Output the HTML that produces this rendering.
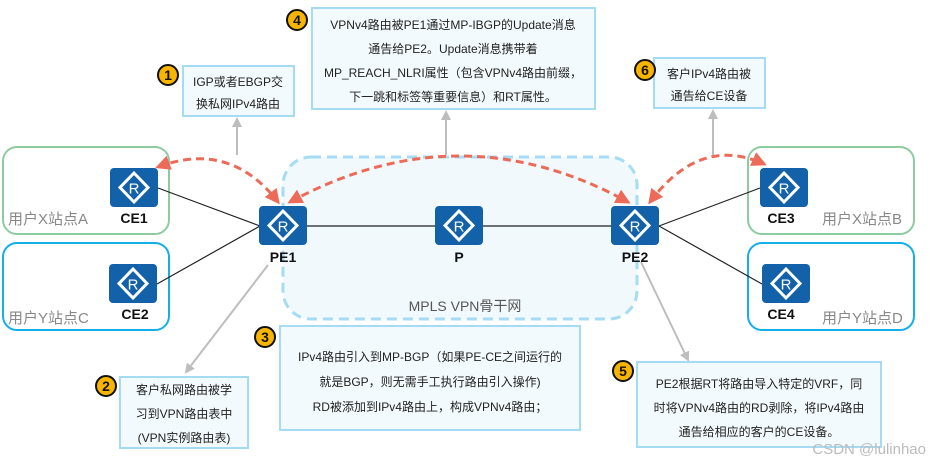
<!DOCTYPE html>
<html><head><meta charset="utf-8"><style>
html,body{margin:0;padding:0;background:#fff;}
svg{display:block;}
text{font-family:"Liberation Sans","Noto Sans CJK SC",sans-serif;}
</style></head><body>
<svg width="930" height="463" viewBox="0 0 930 463" xmlns="http://www.w3.org/2000/svg">
<defs>
<g id="rt">
<rect x="0" y="0" width="48" height="39" rx="4" fill="#1361a9"/>
<path d="M24 5 L38 19.5 L24 34 L10 19.5 Z" fill="none" stroke="#fff" stroke-width="3"/>
<text x="24" y="25.5" font-size="15" fill="#fff" text-anchor="middle">R</text>
</g>
<marker id="ar" viewBox="0 0 10 10" refX="8" refY="5" markerWidth="5" markerHeight="5" orient="auto-start-reverse"><path d="M0 0 L10 5 L0 10 Z" fill="#ee6a58"/></marker>
<marker id="ga" viewBox="0 0 10 10" refX="8" refY="5" markerWidth="5" markerHeight="5" orient="auto"><path d="M0 0 L10 5 L0 10 Z" fill="#bdbdbd"/></marker>
</defs>

<rect x="283" y="157" width="354" height="162" rx="28" fill="#f1f9fd" stroke="#a6dcf3" stroke-width="3" stroke-dasharray="10,6"/>
<text x="465" y="311" font-size="14" fill="#555" text-anchor="middle">MPLS VPN骨干网</text>

<rect x="3" y="147" width="166" height="87" rx="14" fill="none" stroke="#8ecba1" stroke-width="2"/>
<rect x="3" y="243" width="166" height="87" rx="14" fill="none" stroke="#14aee8" stroke-width="2"/>
<rect x="748" y="147" width="166" height="87" rx="14" fill="none" stroke="#8ecba1" stroke-width="2"/>
<rect x="748" y="243" width="166" height="87" rx="14" fill="none" stroke="#14aee8" stroke-width="2"/>
<text x="8" y="224" font-size="15" fill="#888">用户X站点A</text>
<text x="8" y="323" font-size="15" fill="#888">用户Y站点C</text>
<text x="822" y="224" font-size="15" fill="#888">用户X站点B</text>
<text x="822" y="323" font-size="15" fill="#888">用户Y站点D</text>

<g stroke="#222" stroke-width="1.2">
<line x1="158" y1="188" x2="260" y2="226"/>
<line x1="157" y1="284" x2="260" y2="226"/>
<line x1="307" y1="226" x2="435" y2="226"/>
<line x1="483" y1="226" x2="611" y2="226"/>
<line x1="659" y1="226" x2="760" y2="188"/>
<line x1="659" y1="226" x2="762" y2="284"/>
</g>

<g stroke="#bdbdbd" stroke-width="2" fill="none">
<line x1="237" y1="155" x2="237" y2="119" marker-end="url(#ga)"/>
<line x1="446" y1="155" x2="446" y2="112" marker-end="url(#ga)"/>
<line x1="713" y1="155" x2="713" y2="111" marker-end="url(#ga)"/>
<line x1="268" y1="265" x2="186" y2="372" marker-end="url(#ga)"/>
<line x1="641" y1="262" x2="688" y2="360" marker-end="url(#ga)"/>
</g>

<g stroke="#ee6a58" stroke-width="3" fill="none" stroke-dasharray="8,5">
<path d="M158 167 Q230 140 278 202" marker-start="url(#ar)" marker-end="url(#ar)"/>
<path d="M290 202 Q460 110 628 202" marker-start="url(#ar)" marker-end="url(#ar)"/>
<path d="M650 202 Q700 135 764 164" marker-start="url(#ar)" marker-end="url(#ar)"/>
</g>

<use href="#rt" x="110" y="168"/>
<use href="#rt" x="109" y="264"/>
<use href="#rt" x="259" y="206"/>
<use href="#rt" x="435" y="206"/>
<use href="#rt" x="611" y="206"/>
<use href="#rt" x="760" y="168"/>
<use href="#rt" x="762" y="264"/>
<g font-size="14" font-weight="bold" fill="#111" text-anchor="middle">
<text x="134" y="223">CE1</text>
<text x="135" y="319">CE2</text>
<text x="283" y="262">PE1</text>
<text x="459" y="262">P</text>
<text x="635" y="262">PE2</text>
<text x="781" y="223">CE3</text>
<text x="781" y="319">CE4</text>
</g>

<g fill="#f3fafd" stroke="#a6dcf3" stroke-width="2">
<rect x="183" y="66" width="111" height="50"/>
<rect x="312" y="8" width="283" height="101"/>
<rect x="654" y="58" width="111" height="50"/>
<rect x="120" y="377" width="128" height="71"/>
<rect x="280" y="326" width="300" height="104"/>
<rect x="637" y="362" width="244" height="85"/>
</g>
<g font-size="12" fill="#222" text-anchor="middle">
<text x="238" y="86">IGP或者EBGP交</text>
<text x="238" y="108">换私网IPv4路由</text>
<text x="453" y="29">VPNv4路由被PE1通过MP-IBGP的Update消息</text>
<text x="453" y="53">通告给PE2。Update消息携带着</text>
<text x="453" y="77">MP_REACH_NLRI属性（包含VPNv4路由前缀，</text>
<text x="453" y="101">下一跳和标签等重要信息）和RT属性。</text>
<text x="709" y="78">客户IPv4路由被</text>
<text x="709" y="100">通告给CE设备</text>
<text x="184" y="394">客户私网路由被学</text>
<text x="184" y="418">习到VPN路由表中</text>
<text x="184" y="442">(VPN实例路由表)</text>
<text x="430" y="361">IPv4路由引入到MP-BGP（如果PE-CE之间运行的</text>
<text x="430" y="386">就是BGP，则无需手工执行路由引入操作)</text>
<text x="430" y="411">RD被添加到IPv4路由上，构成VPNv4路由；</text>
<text x="759" y="388">PE2根据RT将路由导入特定的VRF，同</text>
<text x="759" y="412">时将VPNv4路由的RD剥除，将IPv4路由</text>
<text x="759" y="436">通告给相应的客户的CE设备。</text>
</g>

<g fill="#f7b500" stroke="#111" stroke-width="2">
<circle cx="168" cy="75" r="10"/>
<circle cx="297" cy="20" r="10"/>
<circle cx="645" cy="70" r="10"/>
<circle cx="106" cy="386" r="10"/>
<circle cx="265" cy="337" r="10"/>
<circle cx="623" cy="371" r="10"/>
</g>
<g font-size="14" font-weight="bold" fill="#111" text-anchor="middle">
<text x="168" y="80">1</text>
<text x="297" y="25">4</text>
<text x="645" y="75">6</text>
<text x="106" y="391">2</text>
<text x="265" y="342">3</text>
<text x="623" y="376">5</text>
</g>

<text x="926" y="454" font-size="15" fill="#bbb" text-anchor="end">CSDN @lulinhao</text>
</svg>
</body></html>
